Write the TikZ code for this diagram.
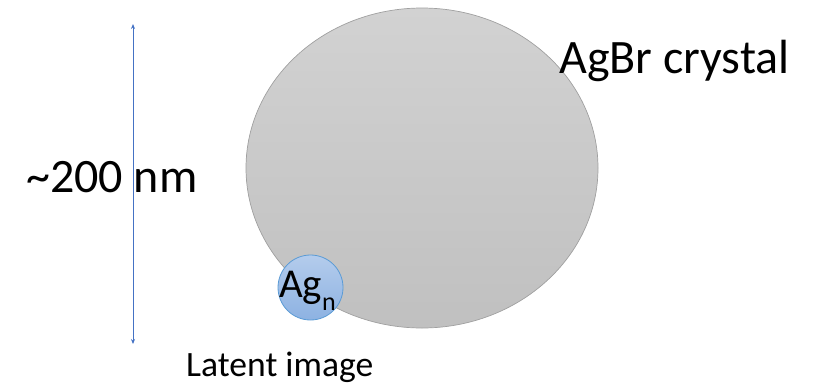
\documentclass[tikz,border=0pt]{standalone}
\usepackage{fontspec}
\setmainfont{Carlito}
\usetikzlibrary{shapes.geometric,arrows.meta}
\definecolor{crysttop}{RGB}{210,210,210}
\definecolor{crystbot}{RGB}{192,192,192}
\definecolor{crystedge}{RGB}{160,160,160}
\definecolor{agtop}{RGB}{180,204,236}
\definecolor{agbot}{RGB}{141,178,226}
\definecolor{agedge}{RGB}{91,155,213}
\definecolor{scaleblue}{RGB}{68,114,196}
\tikzset{
  crystal/.style={ellipse, draw=crystedge, line width=0.7pt, shading=axis, top color=crysttop, bottom color=crystbot, minimum width=352pt, minimum height=320pt, inner sep=0pt},
  cluster/.style={circle, draw=agedge, line width=0.8pt, shading=axis, top color=agtop, bottom color=agbot, minimum size=65pt, inner sep=0pt},
  bigtext/.style={anchor=base west, inner sep=0pt, font=\fontsize{48}{50}\selectfont},
  midtext/.style={anchor=base west, inner sep=0pt, font=\fontsize{35.6}{40}\selectfont},
  scalearrow/.style={draw=scaleblue, line width=0.9pt, {Stealth[length=5pt,width=4pt]}-{Stealth[length=5pt,width=4pt]}}
}
\begin{document}
\begin{tikzpicture}[x=1pt,y=-1pt]
\useasboundingbox (0,0) rectangle (818,384);
\node[crystal] (cryst) at (422,168) {};
\node[cluster] (agn) at (310.5,287.5) {};
\node[anchor=base west, inner sep=0pt, font=\fontsize{41}{44}\selectfont] (agtext) at (279,297) {Ag\raisebox{-13pt}{\fontsize{26}{28}\selectfont n}};
\coordinate (stop) at (133,24);
\coordinate (sbot) at (133,344);
\draw[scalearrow] (stop) -- (sbot);
\node[bigtext] (size) at (26,192) {\textasciitilde200 nm};
\node[bigtext] (label) at (559,73) {AgBr crystal};
\node[midtext] (latent) at (186,376) {Latent image};
\end{tikzpicture}
\end{document}
